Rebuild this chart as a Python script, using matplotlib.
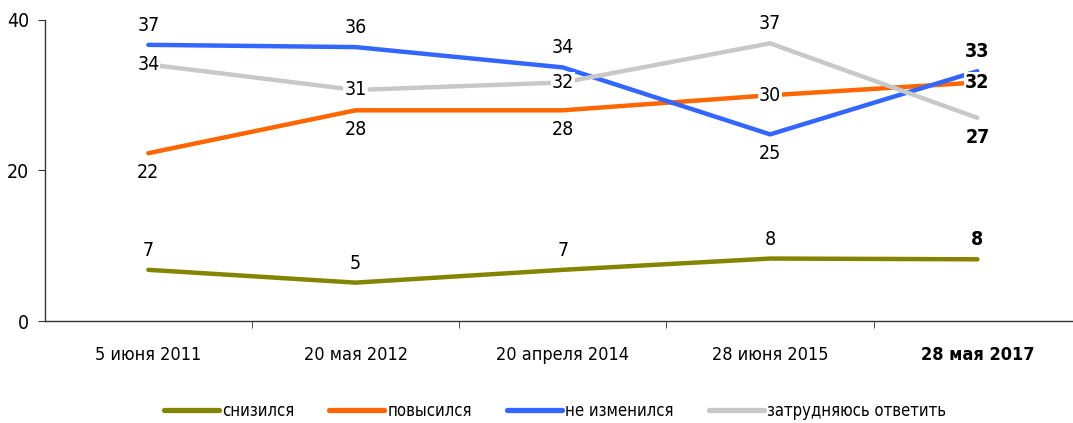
import matplotlib
matplotlib.use("Agg")
import matplotlib.pyplot as plt
from matplotlib import font_manager as fm

# ---- data ----
categories = ["5 июня 2011", "20 мая 2012", "20 апреля 2014", "28 июня 2015", "28 мая 2017"]
series_names = ["снизился", "повысился", "не изменился", "затрудняюсь ответить"]
decreased = [6.8, 5.1, 6.8, 8.3, 8.2]
increased = [22.3, 28.0, 28.0, 30.0, 31.7]
unchanged = [36.7, 36.4, 33.7, 24.8, 33.2]
hard_to_say = [34.1, 30.7, 31.7, 36.9, 27.0]
yticks = [0, 20, 40]

colors = ["#848400", "#FF6600", "#3366FF", "#C8C8C8"]
# label placement per point: 'a' above, 'b' below, 'c' centred on line
placements = [
    ["a", "a", "a", "a", "a"],
    ["b", "b", "b", "c", "c"],
    ["a", "a", "a", "b", "a"],
    ["c", "c", "c", "a", "b"],
]

# ---- font ----
names = {f.name for f in fm.fontManager.ttflist}
stretch = "normal"
if "Liberation Sans Narrow" in names:
    fam = "Liberation Sans Narrow"
else:
    fam = "DejaVu Sans"
    if any(f.name == "DejaVu Sans" and f.stretch == "condensed" for f in fm.fontManager.ttflist):
        stretch = "condensed"
plt.rcParams["font.family"] = [fam, "DejaVu Sans"]
plt.rcParams["font.stretch"] = stretch

W, H = 1073, 423
fig = plt.figure(figsize=(W / 100, H / 100), dpi=100)
left_px, right_px = 44.7, 1081.0
top_px, bot_px = 20.0, 321.0
ax = fig.add_axes([left_px / W, (H - bot_px) / H, (right_px - left_px) / W, (bot_px - top_px) / H])

data = [decreased, increased, unchanged, hard_to_say]
x = list(range(len(categories)))
for vals, c, name in zip(data, colors, series_names):
    ax.plot(x, vals, color=c, lw=3.2, solid_capstyle="round", label=name, zorder=2)

for vals, pl in zip(data, placements):
    for i, (v, p) in enumerate(zip(vals, pl)):
        bold = i == len(vals) - 1
        kw = dict(ha="center", va="center", fontsize=14,
                  fontweight="bold" if bold else "normal", zorder=5)
        if p == "a":
            ax.annotate(f"{v:.0f}", (i, v), xytext=(0, 14), textcoords="offset points", **kw)
        elif p == "b":
            ax.annotate(f"{v:.0f}", (i, v), xytext=(0, -14), textcoords="offset points", **kw)
        else:
            ax.annotate(f"{v:.0f}", (i, v), xytext=(0, 0), textcoords="offset points",
                        bbox=dict(boxstyle="square,pad=0.05", fc="white", ec="none"), **kw)

ax.set_ylim(0, 40)
ax.set_xlim(-0.5, 4.5)
ax.set_yticks(yticks)
ax.set_yticklabels([str(t) for t in yticks], fontsize=14)
ax.set_xticks(x)
ax.set_xticklabels(categories, fontsize=13)
ax.get_xticklabels()[-1].set_fontweight("bold")
ax.set_xticks([0.5, 1.5, 2.5, 3.5], minor=True)
ax.tick_params(axis="x", which="major", length=0, pad=18)
ax.tick_params(axis="x", which="minor", length=5, direction="out", color="#333333")
ax.tick_params(axis="y", length=5, direction="out", color="#333333", pad=6)
for s in ["top", "right"]:
    ax.spines[s].set_visible(False)
for s in ["left", "bottom"]:
    ax.spines[s].set_color("#333333")
    ax.spines[s].set_linewidth(1.0)

leg = fig.legend(loc="center", bbox_to_anchor=(555 / W, (H - 411) / H), ncol=4,
                 frameon=False, fontsize=12, handlelength=3.3, handletextpad=0.2,
                 columnspacing=2.1)
for line in leg.get_lines():
    line.set_linewidth(3.8)
    line.set_solid_capstyle("round")

fig.savefig("out.png", dpi=100)
